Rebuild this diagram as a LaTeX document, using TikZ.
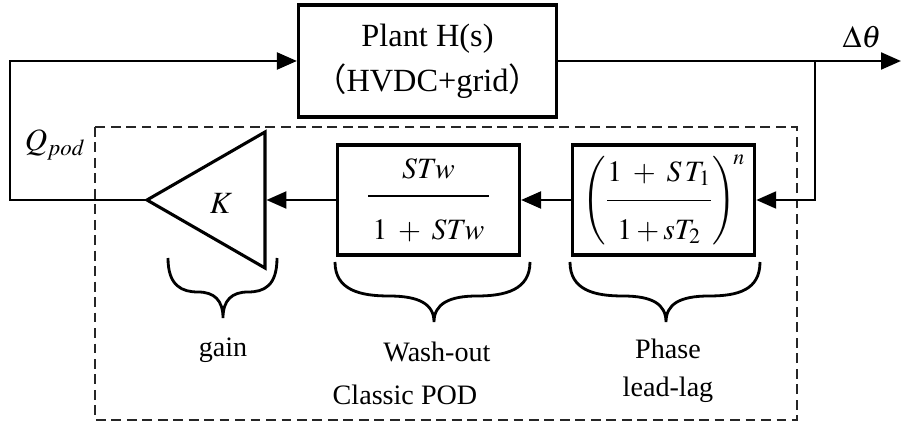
\documentclass[tikz,border=0pt]{standalone}
\usepackage{amsmath}
\usepackage{mathptmx}
\usepackage{fontspec}
\setmainfont{Liberation Serif}
\newfontfamily\cjk{Noto Sans CJK SC}
\usetikzlibrary{arrows.meta,positioning,calc}

\begin{document}
\begin{tikzpicture}[
  x=0.025cm, y=-0.025cm,
  blockbox/.style={draw, line width=2.2pt, minimum width=4.55cm, minimum height=2.75cm,
    inner sep=0pt, font=\fontsize{21}{24}\selectfont},
  arr/.style={-{Triangle[length=0.5cm, width=0.42cm]}, line width=2pt},
  podframe/.style={draw=black!85, line width=0.9pt, dash pattern=on 7pt off 4pt},
  bracecurve/.style={line width=2pt},
  lbl/.style={font=\fontsize{20}{27}\selectfont, align=center, inner sep=0pt},
  node distance=1.25cm,
]
\useasboundingbox (0,0) rectangle (902,425);

% ===== Plant =====
\node[blockbox, minimum width=6.45cm, minimum height=2.8cm, align=center,
  font=\fontsize{23}{32}\selectfont] (plant) at (427.5,61)
  {Plant H(s)\\{\cjk （}HVDC+grid{\cjk ）}};

% ===== Classic POD chain =====
\draw[podframe] (95,127) rectangle (797,420);
\node[blockbox] (wash) at (428.5,200)
  {$\genfrac{}{}{1.3pt}{0}{\rule[-8pt]{0pt}{8pt}STw}{\rule{0pt}{26pt}\hspace{3pt}1\;+\;STw\hspace{3pt}}$};
\node[blockbox, right=of wash] (leadlag)
  {$\left(\genfrac{}{}{1.3pt}{0}{\rule[-9pt]{0pt}{9pt}1\;+\;S\,T_{1}}{\rule{0pt}{23pt}1+sT_{2}}\right)^{\!n}$};

\coordinate (ktip) at (147,200);
\coordinate (kin) at (265,200);
\draw[line width=2.2pt] (265,132) -- (ktip) -- (265,268) -- cycle;
\node[lbl, font=\fontsize{22}{24}\selectfont] (kgain) at (221,203) {$K$};

% ===== Signals =====
\coordinate (dtheta) at (901,61);
\coordinate (branch) at (815,61);
\coordinate (fbcorner) at (10,61);
\draw[arr] (plant.east) -- (dtheta);
\draw[arr] (branch) |- (leadlag.east);
\draw[arr] (leadlag.west) -- (wash.east);
\draw[arr, shorten >=1pt] (wash.west) -- (kin);
\draw[arr] (ktip) -| (fbcorner) -- (plant.west);

\node[lbl, font=\fontsize{22}{24}\selectfont] (dthetalbl) at (862,37) {$\Delta\theta$};
\node[lbl, font=\fontsize{22}{24}\selectfont] (qpod) at (55,145) {$Q_{pod}$};

% ===== Braces and labels =====
\draw[bracecurve] (168,258) .. controls (168,286) and (182,292) .. (198,292)
  .. controls (214,292) and (223,300) .. (223,318)
  .. controls (223,300) and (232,292) .. (248,292)
  .. controls (264,292) and (277,286) .. (277,258);
\draw[bracecurve] (335,262) .. controls (335,290) and (360,296) .. (389,296)
  .. controls (419,296) and (434,304) .. (434,322)
  .. controls (434,304) and (449,296) .. (477,296)
  .. controls (505,296) and (530,290) .. (530,262);
\draw[bracecurve] (570,262) .. controls (570,290) and (594,296) .. (623,296)
  .. controls (652,296) and (666,304) .. (666,322)
  .. controls (666,304) and (680,296) .. (709,296)
  .. controls (738,296) and (760,290) .. (760,262);

\node[lbl] (gainlbl) at (223,350) {gain};
\node[lbl] (washlbl) at (437,352) {Wash-out};
\node[lbl] (phaselbl) at (668,371) {Phase\\lead-lag};
\node[lbl] (podlbl) at (405,395) {Classic POD};

\end{tikzpicture}
\end{document}
